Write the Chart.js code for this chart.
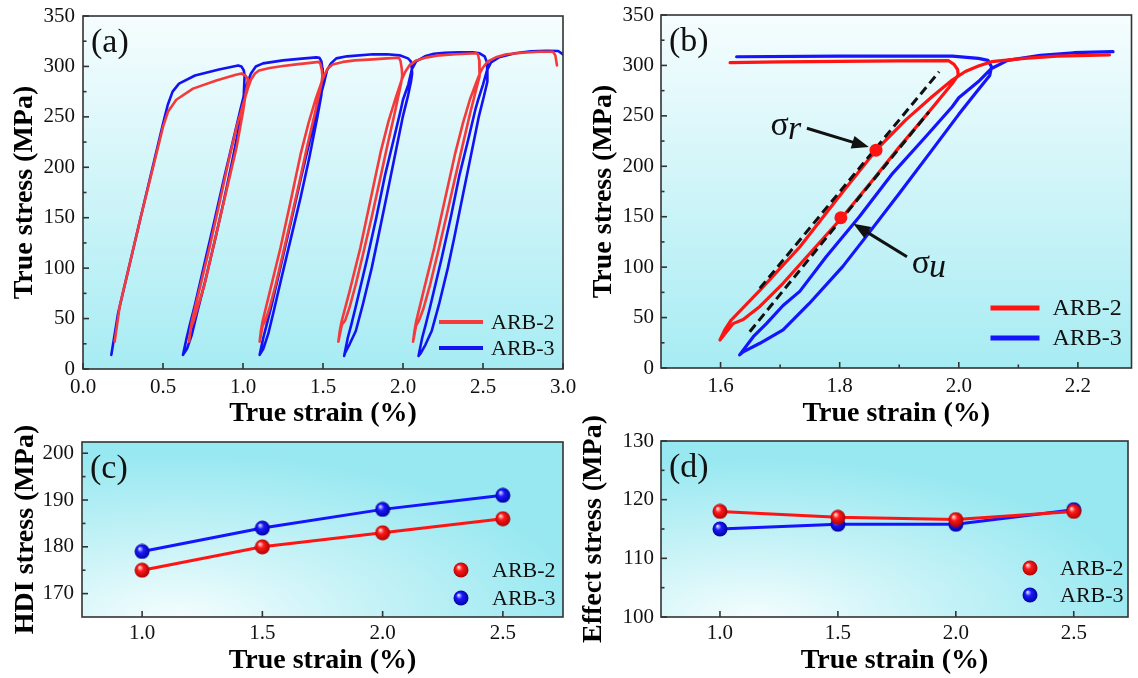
<!DOCTYPE html>
<html>
<head>
<meta charset="utf-8">
<script src="https://cdn.jsdelivr.net/npm/chart.js@4.4.1/dist/chart.umd.min.js"></script>
<style>
  html, body { margin: 0; padding: 0; background: #fff; }
  body { width: 1138px; height: 678px; position: relative; overflow: hidden; }
  canvas { position: absolute; }
</style>
</head>
<body>
<canvas id="chartC" width="580" height="288" style="left:0;top:390px"></canvas>
<canvas id="chartD" width="558" height="288" style="left:580px;top:390px"></canvas>
<canvas id="chartA" width="580" height="432" style="left:0;top:0"></canvas>
<canvas id="chartB" width="558" height="432" style="left:580px;top:0"></canvas>
<script>
// ---- data ----
const seriesNames = ['ARB-2', 'ARB-3'];

// (a) loading-unloading curves, [strain %, stress MPa]
const arb2CurveA = [
  [0.198,27],[0.229,62],[0.36,150],[0.5,240],[0.531,255],[0.583,267],[0.6875,278],[0.833,286],[0.95,291.5],[0.99,293],[1.015,291],[1.028,288],[1.031,284],
  [1.02,276],[1.0,255],[0.96,220],[0.91,186],[0.86,152],[0.81,118],[0.76,84],[0.715,60],[0.69,47],[0.675,41],[0.663,27],
  [0.67,38],[0.68,47],[0.725,77],[0.79,120],[0.855,166],[0.915,210],[0.96,240],[1.0,262],[1.03,278],[1.05,287],[1.075,293],[1.1,296],[1.167,298.5],[1.25,300.5],[1.333,302],[1.42,303.5],[1.475,304.5],
  [1.485,302],[1.493,296],[1.496,290],[1.488,281],[1.45,254],[1.40,220],[1.355,187],[1.305,152],[1.255,118],[1.205,84],[1.165,60],[1.14,48],[1.123,43],[1.104,27],
  [1.112,38],[1.122,47],[1.168,77],[1.234,120],[1.3,168],[1.36,213],[1.41,244],[1.455,268],[1.49,284],[1.51,292],[1.53,298],[1.56,302],[1.625,304.5],[1.7,306],[1.81,307],[1.9,308],[1.975,308.6],
  [1.985,305],[1.992,298],[1.995,291],[1.988,283],[1.95,255],[1.90,220],[1.855,187],[1.805,151],[1.755,117],[1.705,84],[1.666,61],[1.638,48],[1.618,44],[1.596,27],
  [1.605,38],[1.616,47],[1.666,77],[1.733,120],[1.8,170],[1.86,215],[1.91,246],[1.955,269],[1.99,286],[2.015,295],[2.04,301],[2.083,306],[2.15,309],[2.229,311],[2.33,312],[2.458,313],[2.469,312],
  [2.476,306],[2.479,297],[2.478,290],[2.465,282],[2.42,254],[2.37,220],[2.322,187],[2.272,152],[2.222,118],[2.17,84],[2.128,60],[2.1,48],[2.082,43],[2.063,27],
  [2.072,38],[2.082,47],[2.128,77],[2.195,120],[2.262,168],[2.325,213],[2.375,244],[2.42,268],[2.458,284],[2.48,293],[2.5,299],[2.53,305],[2.58,309],[2.646,312],[2.75,313.5],[2.85,314.5],[2.9375,314.6],[2.952,311],[2.9625,301]
];
const arb3CurveA = [
  [0.177,14],[0.219,55],[0.36,150],[0.5,243],[0.53,262],[0.56,275],[0.6,283],[0.7,291],[0.85,297],[0.97,301],[0.99,300],[1.005,296],[1.01,291],
  [1.005,272],[0.985,248],[0.935,208],[0.882,168],[0.825,128],[0.765,88],[0.712,55],[0.68,34],[0.65,20],[0.625,14],
  [0.648,31],[0.668,44],[0.7,64],[0.76,105],[0.82,146],[0.88,188],[0.94,228],[0.985,258],[1.01,274],[1.03,285],[1.05,293],[1.08,300],[1.125,303],[1.25,306],[1.35,307.5],[1.458,309],[1.478,308.5],
  [1.49,305],[1.496,298],[1.498,292],[1.49,272],[1.465,250],[1.415,210],[1.36,170],[1.3,130],[1.24,90],[1.19,56],[1.158,35],[1.127,20],[1.104,14],
  [1.127,31],[1.148,44],[1.18,64],[1.24,105],[1.3,146],[1.36,188],[1.42,228],[1.465,258],[1.49,274],[1.51,286],[1.525,296],[1.55,303],[1.583,308],[1.65,310],[1.8125,312],[1.9,312],[1.979,311],[2.031,308],[2.049,305],[2.055,298],
  [2.057,293],[2.05,285],[2.03,270],[2.0,251],[1.955,216],[1.9,173],[1.844,130],[1.805,100.5],[1.749,64],[1.705,37.7],[1.666,24.5],[1.638,16],[1.632,13],
  [1.655,31],[1.677,44],[1.705,62],[1.777,110],[1.833,150],[1.889,193],[1.944,229],[1.989,259],[2.0,267],[2.033,282],[2.055,297],[2.082,305],[2.137,310],[2.193,312.6],[2.259,313.6],[2.35,314],[2.4375,314],[2.479,313],[2.51,310],[2.525,304],
  [2.53,298],[2.525,285],[2.505,270],[2.475,251],[2.43,216],[2.375,173],[2.32,130],[2.28,100],[2.225,64],[2.18,38],[2.14,24],[2.112,16],[2.097,13],
  [2.12,31],[2.142,44],[2.17,62],[2.242,110],[2.298,150],[2.354,193],[2.41,229],[2.455,259],[2.47,267],[2.5,282],[2.525,296],[2.55,304],[2.6,309],[2.7,313],[2.8,315],[2.9,315.6],[2.97,315.3],[3.0,312]
];

// (b) one loop, enlarged
const arb2CurveB = [
  [1.616,302.7],[1.7,303.5],[1.8,304],[1.9,304.5],[1.983,304.7],[1.992,301],[1.998,296],[1.999,290.5],
  [1.989,282],[1.95,254],[1.90,219],[1.855,186],[1.805,150],[1.755,117],[1.705,84],[1.666,61],[1.638,48],[1.621,44],[1.599,27.8],
  [1.607,37.7],[1.618,47.6],[1.666,77],[1.733,120],[1.799,170],[1.861,216],[1.911,246],[1.955,269],[1.989,285.5],[2.011,294],[2.033,299.4],[2.055,303.7],[2.11,307],[2.165,309.3],[2.253,310.5]
];
const arb3CurveB = [
  [1.627,308.6],[1.8,309.3],[1.989,309.3],[2.033,307],[2.049,305],[2.055,298.7],
  [2.052,290],[2.03,274],[2.0,251.5],[1.955,216],[1.9,173],[1.844,130],[1.805,100.5],[1.749,64],[1.705,37.7],[1.666,24.5],[1.638,16],[1.632,13],
  [1.655,31],[1.677,44],[1.705,62],[1.733,76],[1.777,110],[1.833,150],[1.889,193],[1.944,229],[1.989,259],[2.0,268],[2.033,284],[2.055,297],[2.082,305],[2.137,310],[2.193,312.6],[2.259,313.6]
];
const fitLineUpperB = [[1.666,79],[1.967,293.8]];
const fitLineLowerB = [[1.649,36],[1.95,254]];
const markPointsB = [[1.861,216],[1.802,149]];

// (c), (d)
const strainCD = [1.0, 1.5, 2.0, 2.5];
const hdiArb2 = [175, 180, 183, 186];
const hdiArb3 = [179, 184, 188, 191];
const effArb2 = [118, 117, 116.6, 118];
const effArb3 = [115, 115.8, 115.8, 118.3];

// tick labels
const ticksAX = [0, 0.5, 1.0, 1.5, 2.0, 2.5, 3.0];
const ticksStress = [0, 50, 100, 150, 200, 250, 300, 350];
const ticksBX = [1.6, 1.8, 2.0, 2.2];
const ticksCDX = [1.0, 1.5, 2.0, 2.5];
const ticksCY = [170, 180, 190, 200];
const ticksDY = [100, 110, 120, 130];

// σ annotations in (b): text anchor and arrow, in data units
const notesB = [
  {sub: 'r', at: [1.684, 231], from: [1.745, 237.7], to: [1.849, 219]},
  {sub: 'u', at: [1.921, 94.2], from: [1.913, 110.4], to: [1.823, 143]}
];

// ---- drawing ----
const serif = "'Liberation Serif', 'Times New Roman', Times, serif";
const RED_A = '#f43a3a', BLUE_A = '#1212f2';
const RED = '#ff1414', BLUE = '#1414ff';

const pts = arr => arr.map(([x, y]) => ({x, y}));
const pairs = (xs, ys) => xs.map((x, i) => ({x, y: ys[i]}));

function sphere(light, base, dark) {
  const c = document.createElement('canvas');
  c.width = c.height = 16;
  const g = c.getContext('2d');
  const grad = g.createRadialGradient(5.5, 5, 0.5, 8, 8, 8);
  grad.addColorStop(0, light);
  grad.addColorStop(0.35, base);
  grad.addColorStop(1, dark);
  g.fillStyle = grad;
  g.beginPath();
  g.arc(8, 8, 7.5, 0, Math.PI * 2);
  g.fill();
  return c;
}
const redBall = sphere('#ffd6d6', '#ff1a1a', '#a80000');
const blueBall = sphere('#d4d4ff', '#1a1aff', '#00009a');

function line(ctx, x1, y1, x2, y2) {
  ctx.beginPath();
  ctx.moveTo(x1, y1);
  ctx.lineTo(x2, y2);
  ctx.stroke();
}

const panelPlugin = {
  id: 'panel',
  beforeDatasetsDraw(chart, args, opts) {
    const {ctx, chartArea: a} = chart;
    ctx.save();
    ctx.beginPath();
    ctx.rect(a.left, a.top, a.width, a.height);
    ctx.clip();
    if (opts.bg === 'radial') {
      const cx = a.left + a.width * 0.2, cy = a.bottom;
      ctx.translate(cx, cy);
      ctx.scale(1, 0.4);
      const g = ctx.createRadialGradient(0, 0, 0, 0, 0, a.width * 0.85);
      g.addColorStop(0, '#f4fdfe');
      g.addColorStop(0.45, '#c8f3f7');
      g.addColorStop(1, '#98e8f1');
      ctx.fillStyle = g;
      ctx.fillRect(-2000, -3000, 4000, 6000);
    } else {
      const g = ctx.createLinearGradient(0, a.top, 0, a.bottom);
      g.addColorStop(0, '#f6fdfe');
      g.addColorStop(1, '#a7ecf3');
      ctx.fillStyle = g;
      ctx.fillRect(a.left, a.top, a.width, a.height);
    }
    ctx.restore();
  },
  afterDatasetsDraw(chart, args, opts) {
    const {ctx, chartArea: a} = chart;
    const xs = chart.scales.x, ys = chart.scales.y;
    ctx.save();

    // frame and inward ticks
    ctx.strokeStyle = '#333';
    ctx.lineWidth = 1.6;
    ctx.strokeRect(a.left, a.top, a.width, a.height);
    xs.ticks.forEach((t, i) => {
      const p = xs.getPixelForValue(t.value);
      line(ctx, p, a.bottom, p, a.bottom - 6);
      if (opts.minorX && i < xs.ticks.length - 1) {
        const m = xs.getPixelForValue((t.value + xs.ticks[i + 1].value) / 2);
        line(ctx, m, a.bottom, m, a.bottom - 3.5);
      }
    });
    ys.ticks.forEach((t, i) => {
      const p = ys.getPixelForValue(t.value);
      line(ctx, a.left, p, a.left + 6, p);
      if (i < ys.ticks.length - 1) {
        const m = ys.getPixelForValue((t.value + ys.ticks[i + 1].value) / 2);
        line(ctx, a.left, m, a.left + 3.5, m);
      }
    });

    // panel letter
    ctx.fillStyle = '#111';
    ctx.font = `34px ${serif}`;
    ctx.textAlign = 'left';
    ctx.textBaseline = 'alphabetic';
    ctx.fillText(opts.label, a.left + 8, a.top + 36);

    // legend
    const L = opts.legend;
    L.rows.forEach((dy, i) => {
      const y = a.bottom + dy;
      if (L.kind === 'line') {
        ctx.strokeStyle = L.colors[i];
        ctx.lineWidth = L.lw;
        line(ctx, a.right + L.x0, y, a.right + L.x1, y);
      } else {
        const img = L.images[i];
        ctx.drawImage(img, a.right + L.x0 - img.width / 2, y - img.height / 2);
      }
      ctx.fillStyle = '#111';
      ctx.font = `${L.size}px ${serif}`;
      ctx.textBaseline = 'middle';
      ctx.fillText(seriesNames[i], a.right + L.tx, y + 1);
    });

    // sigma annotations
    (opts.notes || []).forEach(n => {
      const x1 = xs.getPixelForValue(n.from[0]), y1 = ys.getPixelForValue(n.from[1]);
      const x2 = xs.getPixelForValue(n.to[0]), y2 = ys.getPixelForValue(n.to[1]);
      const ang = Math.atan2(y2 - y1, x2 - x1);
      const hl = 17, hw = 6.5;
      const c = Math.cos(ang), s = Math.sin(ang);
      ctx.strokeStyle = '#111';
      ctx.fillStyle = '#111';
      ctx.lineWidth = 3;
      line(ctx, x1, y1, x2 - hl * 0.8 * c, y2 - hl * 0.8 * s);
      ctx.beginPath();
      ctx.moveTo(x2, y2);
      ctx.lineTo(x2 - hl * c + hw * s, y2 - hl * s - hw * c);
      ctx.lineTo(x2 - hl * c - hw * s, y2 - hl * s + hw * c);
      ctx.closePath();
      ctx.fill();

      const tx = xs.getPixelForValue(n.at[0]), ty = ys.getPixelForValue(n.at[1]);
      ctx.textBaseline = 'alphabetic';
      ctx.font = `34px ${serif}`;
      ctx.fillText('σ', tx, ty);
      const w = ctx.measureText('σ').width;
      ctx.font = `italic 34px ${serif}`;
      ctx.fillText(n.sub, tx + w - 1, ty + 4);
    });
    ctx.restore();
  }
};

function axis(o) {
  return {
    type: 'linear',
    min: o.min,
    max: o.max,
    afterBuildTicks: s => { s.ticks = o.ticks.map(v => ({value: v})); },
    afterFit: s => {
      if (o.isX) { s.height = o.fit; s.paddingLeft = 0; s.paddingRight = 0; }
      else { s.width = o.fit; s.paddingTop = 0; s.paddingBottom = 0; }
    },
    grid: {display: false, drawTicks: false},
    border: {display: false},
    ticks: {
      color: '#111', padding: o.labelPad, autoSkip: false, maxRotation: 0,
      font: {family: serif, size: 21},
      callback: v => Number(v).toFixed(o.digits)
    },
    title: {
      display: true, text: o.title, color: '#000', padding: o.titlePad,
      font: {family: serif, size: 28, weight: 'bold', lineHeight: 1}
    }
  };
}

function makeChart(id, datasets, scales, padding, panel) {
  return new Chart(document.getElementById(id), {
    type: 'scatter',
    data: {datasets},
    options: {
      responsive: false,
      animation: false,
      events: [],
      layout: {padding},
      plugins: {legend: {display: false}, tooltip: {enabled: false}, panel},
      scales
    },
    plugins: [panelPlugin]
  });
}

const curve = (data, color, width) => ({
  data: pts(data), showLine: true, borderColor: color, borderWidth: width,
  pointRadius: 0, borderCapStyle: 'round', borderJoinStyle: 'round'
});
const dotted = (xs, ys, color, img) => ({
  data: pairs(xs, ys), showLine: true, borderColor: color, borderWidth: 3,
  pointStyle: img, pointRadius: 7
});

// (a)
makeChart('chartA',
  [curve(arb2CurveA, RED_A, 2.6), curve(arb3CurveA, BLUE_A, 2.6)],
  {
    x: axis({isX: true, min: 0, max: 3, ticks: ticksAX, digits: 1, title: 'True strain (%)', fit: 63, labelPad: 6, titlePad: {top: 0, bottom: 4}}),
    y: axis({min: 0, max: 350, ticks: ticksStress, digits: 0, title: 'True stress (MPa)', fit: 83, labelPad: 8, titlePad: {top: 11, bottom: 0}})
  },
  {left: 0, top: 16, right: 17, bottom: 0},
  {bg: 'linear', minorX: false, label: '(a)',
   legend: {kind: 'line', x0: -124, x1: -80, tx: -72, rows: [-47, -21], size: 22, lw: 4, colors: [RED_A, BLUE_A]}}
);

// (b)
makeChart('chartB',
  [
    {data: pts(markPointsB), pointRadius: 6.5, pointBackgroundColor: RED, pointBorderWidth: 0},
    {data: pts(fitLineUpperB), showLine: true, borderColor: '#111', borderWidth: 3, borderDash: [9, 5], pointRadius: 0},
    {data: pts(fitLineLowerB), showLine: true, borderColor: '#111', borderWidth: 3, borderDash: [9, 5], pointRadius: 0},
    curve(arb2CurveB, RED, 3.2),
    curve(arb3CurveB, BLUE, 3.2)
  ],
  {
    x: axis({isX: true, min: 1.5, max: 2.29, ticks: ticksBX, digits: 1, title: 'True strain (%)', fit: 64, labelPad: 6, titlePad: {top: 0, bottom: 4}}),
    y: axis({min: 0, max: 350, ticks: ticksStress, digits: 0, title: 'True stress (MPa)', fit: 81, labelPad: 7, titlePad: {top: 10, bottom: 0}})
  },
  {left: 0, top: 15, right: 2, bottom: 0},
  {bg: 'linear', minorX: true, label: '(b)', notes: notesB,
   legend: {kind: 'line', x0: -141, x1: -92, tx: -79, rows: [-60, -30], size: 24, lw: 5, colors: [RED, BLUE]}}
);

// (c)
makeChart('chartC',
  [dotted(strainCD, hdiArb2, RED, redBall), dotted(strainCD, hdiArb3, BLUE, blueBall)],
  {
    x: axis({isX: true, min: 0.75, max: 2.75, ticks: ticksCDX, digits: 1, title: 'True strain (%)', fit: 61, labelPad: 4, titlePad: {top: 0, bottom: 3}}),
    y: axis({min: 165, max: 202.4, ticks: ticksCY, digits: 0, title: 'HDI stress (MPa)', fit: 82, labelPad: 8, titlePad: {top: 12, bottom: 0}})
  },
  {left: 0, top: 52, right: 17, bottom: 0},
  {bg: 'radial', minorX: false, label: '(c)',
   legend: {kind: 'ball', x0: -102, tx: -71, rows: [-47, -19], size: 22, images: [redBall, blueBall]}}
);

// (d)
makeChart('chartD',
  [dotted(strainCD, effArb2, RED, redBall), dotted(strainCD, effArb3, BLUE, blueBall)],
  {
    x: axis({isX: true, min: 0.75, max: 2.73, ticks: ticksCDX, digits: 1, title: 'True strain (%)', fit: 61, labelPad: 4, titlePad: {top: 0, bottom: 3}}),
    y: axis({min: 100, max: 130, ticks: ticksDY, digits: 0, title: 'Effect stress (MPa)', fit: 81, labelPad: 7, titlePad: {top: 0, bottom: 0}})
  },
  {left: 0, top: 51, right: 2, bottom: 0},
  {bg: 'radial', minorX: false, label: '(d)',
   legend: {kind: 'ball', x0: -98, tx: -68, rows: [-49, -22], size: 22, images: [redBall, blueBall]}}
);
</script>
</body>
</html>
